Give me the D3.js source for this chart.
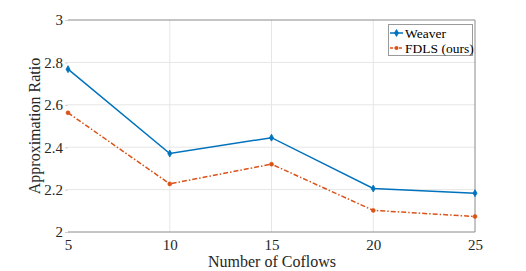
<!DOCTYPE html>
<html><head><meta charset="utf-8">
<script src="https://cdn.jsdelivr.net/npm/d3@7"></script>
<style>body{margin:0;background:#fff}svg{display:block}</style>
</head><body>
<svg id="c" width="526" height="271"></svg>
<script>
const coflows = [5, 10, 15, 20, 25];
const weaver = [2.768, 2.370, 2.445, 2.205, 2.183];
const fdls = [2.562, 2.227, 2.320, 2.102, 2.073];
const yTicks = [2, 2.2, 2.4, 2.6, 2.8, 3];
const yTickLabels = ["2", "2.2", "2.4", "2.6", "2.8", "3"];
const seriesNames = ["Weaver", "FDLS (ours)"];

const svg = d3.select("#c");
const font = "'Liberation Serif', 'Times New Roman', serif";
const L = 68, R = 475, T = 20, B = 232;
const x = d3.scaleLinear().domain([5, 25]).range([L, R]);
const y = d3.scaleLinear().domain([2, 3]).range([B, T]);

// grid
const g = svg.append("g");
g.selectAll(".vg").data(coflows.slice(1, -1)).join("line")
  .attr("x1", d => x(d)).attr("x2", d => x(d)).attr("y1", T).attr("y2", B)
  .attr("stroke", "#e6e6e6").attr("stroke-width", 1);
g.selectAll(".hg").data(yTicks.slice(1, -1)).join("line")
  .attr("x1", L).attr("x2", R).attr("y1", d => y(d)).attr("y2", d => y(d))
  .attr("stroke", "#e6e6e6").attr("stroke-width", 1);

// box (top, bottom, right)
const ac = "#8a8a8a";
svg.append("line").attr("x1", L).attr("x2", R).attr("y1", T).attr("y2", T).attr("stroke", ac);
svg.append("line").attr("x1", L).attr("x2", R).attr("y1", B).attr("y2", B).attr("stroke", ac);
svg.append("line").attr("x1", R).attr("x2", R).attr("y1", T).attr("y2", B).attr("stroke", ac);

const xAxis = d3.axisBottom(x).tickValues(coflows).tickSize(0).tickPadding(7);
const xa = svg.append("g").attr("transform", `translate(0,${B})`).call(xAxis);
xa.attr("font-family", font).attr("font-size", 15);
xa.select(".domain").remove();
xa.selectAll("text").attr("font-family", font).attr("font-size", 15).attr("fill", "#262626");

const yAxis = d3.axisLeft(y).tickValues(yTicks).tickFormat((d, i) => yTickLabels[i]).tickSize(3).tickPadding(2);
const ya = svg.append("g").attr("transform", `translate(${L},0)`).call(yAxis);
ya.attr("font-family", font).attr("font-size", 15);
ya.select(".domain").remove();
ya.selectAll("line").attr("stroke", "#cfcfcf");
ya.selectAll("text").attr("font-family", font).attr("font-size", 15).attr("fill", "#262626");

svg.append("text").attr("x", 272).attr("y", 267).attr("text-anchor", "middle")
  .attr("font-family", font).attr("font-size", 16).attr("fill", "#262626").text("Number of Coflows");
svg.append("text").attr("transform", `translate(40,${(T + B) / 2}) rotate(-90)`).attr("text-anchor", "middle")
  .attr("font-family", font).attr("font-size", 16).attr("fill", "#262626").text("Approximation Ratio");

const c1 = "#0072BD", c2 = "#D95319";
const line = d3.line().x((d, i) => x(coflows[i])).y(d => y(d));
svg.append("path").datum(weaver).attr("d", line).attr("fill", "none").attr("stroke", c1).attr("stroke-width", 1.5);
svg.append("path").datum(fdls).attr("d", line).attr("fill", "none").attr("stroke", c2).attr("stroke-width", 1.5)
  .attr("stroke-dasharray", "5,2,1.5,2");
svg.selectAll(".m1").data(weaver).join("path")
  .attr("transform", (d, i) => `translate(${x(coflows[i])},${y(d)})`)
  .attr("d", d3.symbol(d3.symbolDiamond, 14)).attr("fill", c1).attr("stroke", c1).attr("stroke-width", 0.8);
svg.selectAll(".m2").data(fdls).join("circle")
  .attr("cx", (d, i) => x(coflows[i])).attr("cy", d => y(d)).attr("r", 2)
  .attr("fill", c2).attr("stroke", c2).attr("stroke-width", 0.6);

// legend
const lg = svg.append("g");
lg.append("rect").attr("x", 388.5).attr("y", 24.5).attr("width", 84).attr("height", 31)
  .attr("fill", "#fff").attr("stroke", "#9a9a9a").attr("stroke-width", 1);
const ly = [33, 48];
lg.append("line").attr("x1", 390).attr("x2", 403).attr("y1", ly[0]).attr("y2", ly[0]).attr("stroke", c1).attr("stroke-width", 1.5);
lg.append("path").attr("transform", `translate(396.5,${ly[0]})`).attr("d", d3.symbol(d3.symbolDiamond, 14)).attr("fill", c1).attr("stroke", c1).attr("stroke-width", 0.8);
lg.append("line").attr("x1", 390).attr("x2", 403).attr("y1", ly[1]).attr("y2", ly[1]).attr("stroke", c2).attr("stroke-width", 1.5).attr("stroke-dasharray", "3,1.5");
lg.append("circle").attr("cx", 396.5).attr("cy", ly[1]).attr("r", 2).attr("fill", c2);
lg.selectAll(".lt").data(seriesNames).join("text")
  .attr("x", 405).attr("y", (d, i) => ly[i] + 4.5)
  .attr("font-family", font).attr("font-size", 13.5).attr("fill", "#000").text(d => d);
</script>
</body></html>
